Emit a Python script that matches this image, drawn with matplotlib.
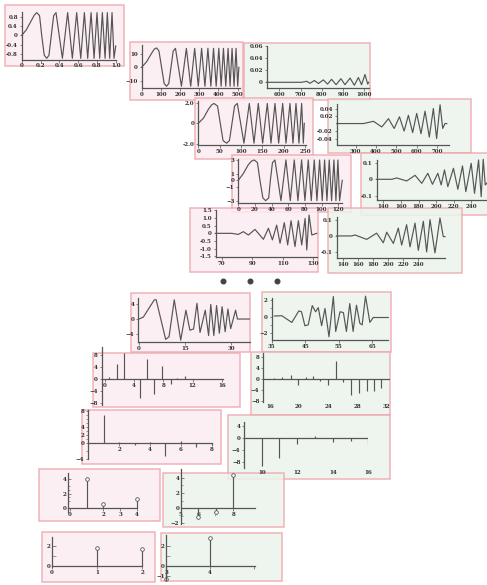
import numpy as np
import matplotlib.pyplot as plt
from matplotlib.patches import Rectangle

plt.rcParams['font.family'] = 'DejaVu Serif'
plt.rcParams['font.weight'] = 'bold'

W, H = 487, 585
PINK = '#fbedf1'
GREEN = '#ebf4ec'
EDGE = '#eea6ac'
INK = '#555555'
TXT = '#2e2e2e'

# ---------------- data ----------------
# panel 1 : chirp 0..1
s1_t = [0, 0.05, 0.10, 0.135, 0.16, 0.19, 0.213, 0.24, 0.266, 0.29, 0.315, 0.34, 0.365,
        0.433, 0.489, 0.539, 0.585, 0.628, 0.667, 0.702, 0.738, 0.770, 0.801, 0.830,
        0.858, 0.887, 0.911, 0.936, 0.961, 0.982, 1.0]
s1_v = [0, 0.25, 0.62, 0.88, 0.98, 0.85, 0.0, -0.85, -0.98, -0.85, 0.0, 0.85, 0.98,
        -0.98, 0.98, -0.98, 0.98, -0.98, 0.98, -0.98, 0.98, -0.98, 0.98, -0.98,
        0.98, -0.98, 0.98, -0.98, 0.98, -0.98, -0.45]

# panel 2 : chirp 0..500
s2_t = [0, 25, 50, 66, 77.6, 90, 103.5, 117, 129.3, 141, 152.6, 164, 175.9,
        206.9, 232.8, 255.2, 275.9, 294.8, 312, 329.3, 344.8, 360.3, 374.1, 387.9,
        401.7, 413.8, 425.8, 437.9, 450, 460.3, 470.7, 481, 491.4, 500, 506]
s2_v = [0, 4, 10, 13.5, 14.3, 12, 0, -12, -14, -12, 0, 12, 14,
        -14, 14, -14, 14, -14, 14, -14, 14, -14, 14, -14,
        14, -14, 14, -14, 14, -14, 14, -14, 14, -14, 0]

# panel 3 : small detail 540..1020
s3_t = [541, 705, 729, 744, 765, 784, 807, 827, 846, 867, 890, 909, 933, 953, 972, 987, 1003, 1016, 1020]
s3_v = [0, 0, 0.0017, -0.0017, 0.003, -0.002, 0.004, -0.003, 0.005, -0.004, 0.006, -0.004,
        0.007, -0.005, 0.008, -0.004, 0.013, -0.003, 0]

# panel 4 : chirp 0..250
s4_t = [0, 12, 24, 31, 36.7, 45, 51.5, 58, 66.4, 73, 79, 85, 91.4,
        107, 119.5, 130.5, 140.6, 150.8, 161.7, 170.3, 179.7, 188.3, 197.7, 205.5,
        214.8, 221.9, 228.9, 235.9, 242.2, 246.1, 248.4]
s4_v = [0, 0.5, 1.4, 1.8, 1.95, 1.7, 0, -1.7, -1.95, -1.7, 0, 1.7, 1.95,
        -1.95, 1.95, -1.95, 1.95, -1.95, 1.95, -1.95, 1.95, -1.95, 1.95, -1.95,
        1.95, -1.95, 1.95, -1.95, 1.95, -1.95, 0]

# panel 5 : detail 206..759
s5_t = [206, 338, 387, 428, 461, 489, 515, 538, 559, 580, 600, 621, 641, 662, 682, 698, 715, 728, 739, 748]
s5_v = [0, 0, 0.006, -0.009, 0.013, -0.013, 0.018, -0.02, 0.022, -0.024, 0.027, -0.027,
        0.033, -0.036, 0.04, -0.04, 0.05, -0.013, 0, 0]

# panel 6 : chirp 0..125
s6_t = [0, 6, 12, 16, 19.2, 23, 26, 29.5, 32.8, 36.5, 38.5, 41, 44,
        51.2, 57.2, 62.4, 67.2, 71.6, 76, 80, 84, 87.6, 91.2, 94.4, 97.6, 100.8,
        103.6, 106.4, 109.2, 112, 114.8, 117.2, 119.6, 121.6, 124.8]
s6_v = [0, 1.0, 2.3, 2.85, 3.0, 2.6, 0, -2.6, -3.0, -2.6, 0, 2.6, 3.0,
        -3.0, 3.0, -3.0, 3.0, -3.0, 3.0, -3.0, 3.0, -3.0, 3.0, -3.0, 3.0, -3.0,
        3.0, -3.0, 3.0, -3.0, 3.0, -3.0, 3.0, -3.0, 0]

# panel 7 : detail 132..258
s7_t = [132.4, 149.5, 155.2, 166.6, 176.1, 183.7, 190.6, 195.9, 202, 205.8, 209.6, 213.4,
        219.8, 224.8, 230.1, 233.9, 240, 243.8, 248.4, 251.4, 253.7, 256, 258.3]
s7_v = [0, 0, 0.008, -0.01, 0.024, -0.024, 0.036, -0.03, 0.036, -0.034, 0.056, -0.044,
        0.066, -0.06, 0.08, -0.074, 0.096, -0.084, 0.116, -0.104, 0.12, -0.034, -0.02]

# panel 8 : 66..132
s8_t = [66.1, 76.6, 80.9, 84.2, 87.5, 91.8, 97.3, 100.6, 103.2, 106, 108.2, 111, 113.2,
        115.4, 118, 120.2, 122.4, 124.6, 125.7, 127.2, 129, 132.2]
s8_v = [0, 0, -0.07, 0.11, -0.11, 0.26, -0.39, 0.33, -0.43, 0.54, -0.65, 0.7, -0.76,
        0.83, -0.87, 0.83, -0.76, 0.98, -1.09, 1.2, -0.11, 0]

# panel 8b : 131..276
s8b_t = [131.1, 151.1, 155.6, 171.1, 184.4, 193.3, 197.8, 206.7, 213.3, 217.8, 224.4, 228.9,
         235.6, 240, 246.7, 251.1, 255.6, 262.2, 268.9, 273.3, 275.6]
s8b_v = [0, 0, 0.006, -0.021, 0.017, -0.042, 0.023, -0.046, 0.048, -0.056, 0.069, -0.067,
         0.079, -0.088, 0.09, -0.098, 0.1, -0.104, 0.11, -0.004, -0.004]

# panel 9 : 0..35
s9_t = [0, 1.4, 5.0, 5.6, 8.7, 9.8, 11.5, 13.6, 15.3, 16.6, 17.8, 18.9, 19.9, 21.6, 22.7,
        23.4, 24.4, 25.3, 26.2, 27.1, 28.1, 29.0, 29.9, 31.5, 32.1, 36]
s9_v = [0, 0.5, 5.0, 5.0, -5.3, -4.6, 5.0, -5.5, 2.3, -2.9, -2.6, 4.1, -3.5, 2.3, -4.3,
        3.8, -4.3, 3.5, -3.7, 3.2, -3.3, 2.6, -2.5, 2.3, 0, 0]

# panel 10 : 35..70
s10_t = [35.8, 38.0, 41.0, 43.1, 43.9, 44.9, 45.9, 47.1, 48.1, 48.9, 49.9, 50.9, 52.1, 53.4,
         54.1, 55.4, 56.4, 57.3, 58.3, 59.3, 60.3, 61.3, 62.0, 63.0, 64.3, 65.3, 69.8]
s10_v = [0.08, 0.12, -0.7, 0.7, 0.6, -1.1, -1.0, 1.35, 0.6, 1.1, -1.1, 1.0, -2.45, 2.45,
         -1.8, 0.6, 0.5, -1.8, 1.6, -1.8, 1.4, -0.8, -1.0, 2.5, -0.7, -0.1, -0.1]

# stem panels
s11_x = [0.6, 1.6, 2.6, 4.8, 5.7, 6.7, 7.8, 9.0, 9.9, 10.9]
s11_v = [0.7, 5.0, 8.4, -6.2, 6.5, -4.8, 4.4, -1.7, 0.4, 1.0]

s12_x = [16.6, 17.7, 18.9, 19.8, 20.9, 21.9, 22.9, 24.0, 25.1, 26.1, 27.1, 28.3, 29.3, 30.3, 31.3]
s12_v = [0.4, 0.8, 1.2, -2.4, 0.5, 1.1, -0.8, -2.3, 6.3, -1.0, -6.0, -5.3, -4.5, -4.6, -3.5]

s13_x = [1, 2, 3, 4, 5, 6, 7, 8]
s13_v = [7.0, 0.2, -0.5, 0.3, -3.3, 0.5, -1.0, -0.6]

s14_x = [10, 11, 12, 13, 14, 15, 16]
s14_v = [-9.1, -6.7, -2.0, 0.9, -1.1, -0.9, -2.0]

s15_x = [1, 2, 4]
s15_v = [4.0, 0.6, 1.3]

s16_x = [6, 7, 8]
s16_v = [-1.2, -0.45, 4.4]

s17_x = [1, 2]
s17_v = [1.83, 1.76]

s18_x = [3, 4]
s18_v = [-1.35, 2.8]

# ---------------- figure ----------------
fig = plt.figure(figsize=(W / 100, H / 100), dpi=100)
bg = fig.add_axes([0, 0, 1, 1], zorder=-1)
bg.set_xlim(0, W)
bg.set_ylim(H, 0)
bg.axis('off')


def panel(box, area, xlim, ylim, face):
    x0, y0, x1, y1 = box
    bg.add_patch(Rectangle((x0, y0), x1 - x0, y1 - y0, fc=face, ec=EDGE, lw=1.1, alpha=0.85))
    l, t, r, b = area
    ax = fig.add_axes([l / W, 1 - b / H, (r - l) / W, (b - t) / H])
    ax.set_xlim(xlim)
    ax.set_ylim(ylim)
    ax.patch.set_alpha(0)
    for s in ('top', 'right'):
        ax.spines[s].set_visible(False)
    for s in ('left', 'bottom'):
        ax.spines[s].set_color(INK)
        ax.spines[s].set_linewidth(0.9)
    ax.tick_params(length=1.8, width=0.5, colors=INK, labelcolor=TXT, labelsize=4, pad=1)
    ax.tick_params(which='minor', length=1.2, width=0.4, colors=INK)
    return ax


def wave(ax, t, v):
    ax.plot(t, v, color=INK, lw=0.85, clip_on=False)


def stems(ax, x, v, circles=False):
    ax.spines['bottom'].set_position(('data', 0))
    ax.vlines(x, 0, v, color=INK, lw=0.85, clip_on=False)
    if circles:
        ax.plot(x, v, 'o', ms=2.6, mfc='white', mec=INK, mew=0.6, clip_on=False)


# row 1
ax = panel((5, 5, 124, 66), (21.7, 11.7, 115.7, 59.5), (0, 1.0), (-1.03, 1.02), PINK)
wave(ax, s1_t, s1_v)
ax.set_xticks([0, 0.2, 0.4, 0.6, 0.8, 1.0], ['0', '0.2', '0.4', '0.6', '0.8', '1.0'])
ax.set_yticks([-0.8, -0.4, 0, 0.4, 0.8], ['-0.8', '-0.4', '0', '0.4', '0.8'])

ax = panel((130, 42, 243, 99.7), (141.5, 44.7, 240, 88), (-1, 512), (-15.3, 16.7), PINK)
wave(ax, s2_t, s2_v)
ax.set_xticks([0, 100, 200, 300, 400, 500])
ax.set_yticks([-10, 0, 10])

ax = panel((244, 43, 370, 100), (266.7, 46, 369, 88), (540.7, 1022), (-0.0095, 0.0605), GREEN)
wave(ax, s3_t, s3_v)
ax.set_xticks([600, 700, 800, 900, 1000])
ax.set_yticks([0, 0.02, 0.04, 0.06], ['0', '0.02', '0.04', '0.06'])

ax = panel((195, 98, 312.7, 159), (198.3, 101, 305.5, 145), (0, 251.2), (-2.13, 2.19), PINK)
wave(ax, s4_t, s4_v)
ax.set_xticks([0, 50, 100, 150, 200, 250])
ax.set_yticks([-2, 0, 2], ['-2.0', '0', '2.0'])

ax = panel((328, 99, 470.7, 153), (336.7, 104, 449, 145), (206, 759), (-0.057, 0.052), GREEN)
wave(ax, s5_t, s5_v)
ax.set_xticks([300, 400, 500, 600, 700])
ax.set_yticks([-0.04, -0.02, 0.02, 0.04], ['-0.04', '-0.02', '0.02', '0.04'])

ax = panel((231.7, 155, 351, 212), (238.3, 159.3, 342, 202.7), (0, 124.5), (-3.3, 3.1), PINK)
wave(ax, s6_t, s6_v)
ax.set_xticks([0, 20, 40, 60, 80, 100, 120])
ax.set_yticks([-3, -1, 0, 1, 3])

ax = panel((361, 153, 490, 215), (376.7, 160, 487, 200), (132.4, 258), (-0.124, 0.1156), GREEN)
wave(ax, s7_t, s7_v)
ax.set_xticks([140, 160, 180, 200, 220, 240])
ax.set_yticks([-0.1, 0, 0.1], ['-0.1', '0', '0.1'])

ax = panel((190, 208.3, 318.3, 271.7), (215.7, 210, 316.7, 257.3), (66.1, 132.2), (-1.57, 1.53), PINK)
wave(ax, s8_t, s8_v)
ax.set_xticks([70, 90, 110, 130])
ax.set_yticks([-1.5, -1, -0.5, 0, 0.5, 1, 1.5], ['-1.5', '-1.0', '-0.5', '0', '0.5', '1.0', '1.5'])

ax = panel((327.7, 208.3, 462.3, 272.7), (336.7, 216.7, 445, 258.3), (131.1, 275.6), (-0.137, 0.118), GREEN)
wave(ax, s8b_t, s8b_v)
ax.set_xticks([140, 160, 180, 200, 220, 240])
ax.set_yticks([-0.1, 0, 0.1], ['-0.1', '0', '0.1'])

# dots
bg.plot([223, 250, 277], [281, 281, 281], 'o', color='#444444', ms=3.3)

# lower part
ax = panel((131, 293.3, 250, 351.7), (138.3, 297.7, 250, 341.7), (-0.23, 36.2), (-5.9, 5.55), PINK)
wave(ax, s9_t, s9_v)
ax.set_xticks([0, 15, 30])
ax.set_yticks([-4, 0, 4])

ax = panel((261.7, 291.7, 391, 351.7), (271.7, 298.3, 388.3, 340), (35, 69.8), (-2.84, 2.24), GREEN)
wave(ax, s10_t, s10_v)
ax.set_xticks([35, 45, 55, 65])
ax.set_yticks([-2, 0, 2])
ax.set_yticks([-1, 1], minor=True)

ax = panel((93.3, 353.3, 240, 406.7), (101.7, 346.7, 223.3, 405), (-0.45, 16.2), (-8.5, 10.6), PINK)
stems(ax, s11_x, s11_v)
ax.set_xticks([0, 4, 8, 12, 16])
ax.set_yticks([-8, -4, 0, 4, 8])

ax = panel((250.7, 351.7, 390, 415), (263.3, 353.3, 390, 401.7), (15.1, 32.5), (-8.3, 9.2), GREEN)
ax.spines['bottom'].set_visible(False)
ax.axhline(0, color=INK, lw=0.9)
ax.vlines(s12_x, 0, s12_v, color=INK, lw=0.85)
ax.set_xticks([16, 20, 24, 28, 32])
ax.tick_params(axis='x', length=0, pad=1.5)
ax.set_yticks([-8, -4, 0, 4, 8])

ax = panel((82.3, 410, 220.7, 464.3), (88.3, 410, 211.7, 459), (0, 8.0), (-4.1, 8.26), PINK)
stems(ax, s13_x, s13_v)
ax.set_xticks([2, 4, 6, 8])
ax.set_yticks([-4, 0, 2, 4, 8])
ax.set_yticks([-2, 1, 3, 5, 6, 7], minor=True)

ax = panel((228.3, 415, 390, 479), (244.3, 422.3, 368.3, 467.7), (9.02, 16), (-9.8, 5.3), GREEN)
ax.spines['bottom'].set_visible(False)
ax.axhline(0, color=INK, lw=0.9)
ax.vlines(s14_x, 0, s14_v, color=INK, lw=0.85)
ax.set_xticks([10, 12, 14, 16])
ax.tick_params(axis='x', length=0, pad=1.5)
ax.set_yticks([-8, -4, 0, 4])

ax = panel((39, 469.3, 160, 520.7), (68.3, 472.7, 136.7, 511.7), (-0.1, 4.0), (-0.47, 4.9), PINK)
stems(ax, s15_x, s15_v, circles=True)
ax.set_xticks([0, 2, 3, 4])
ax.set_yticks([0, 2, 4])
ax.set_yticks([1, 1.5, 2.5, 3], minor=True)
ax.tick_params(axis='y', which='both', direction='in')

ax = panel((163.3, 473.3, 284.3, 526.7), (180.7, 469.3, 255, 524), (5, 9.25), (-2.07, 5.1), GREEN)
stems(ax, s16_x, s16_v, circles=True)
ax.set_xticks([5, 6, 7, 8])
ax.set_yticks([-2, 0, 2, 4])
ax.set_yticks([-1, 1, 3], minor=True)
ax.tick_params(axis='y', which='both', direction='in')

ax = panel((41.7, 532.3, 155, 581.7), (51.7, 536.7, 142.3, 566.7), (0, 2.0), (-0.07, 3.0), PINK)
stems(ax, s17_x, s17_v, circles=True)
ax.set_xticks([0, 1, 2])
ax.set_yticks([0, 2])
ax.set_yticks([1], minor=True)
ax.tick_params(axis='y', which='both', direction='in', length=3)

ax = panel((160.7, 533.3, 281.7, 581), (166, 535, 255, 580), (3, 5.02), (-1.43, 3.07), GREEN)
stems(ax, s18_x, s18_v, circles=True)
ax.set_xticks([3, 4, 5], ['3', '4', ''])
ax.set_yticks([-1, 0, 2])
ax.set_yticks([1], minor=True)
ax.tick_params(axis='y', which='both', direction='in', length=3)

fig.savefig('out.png', dpi=100)
